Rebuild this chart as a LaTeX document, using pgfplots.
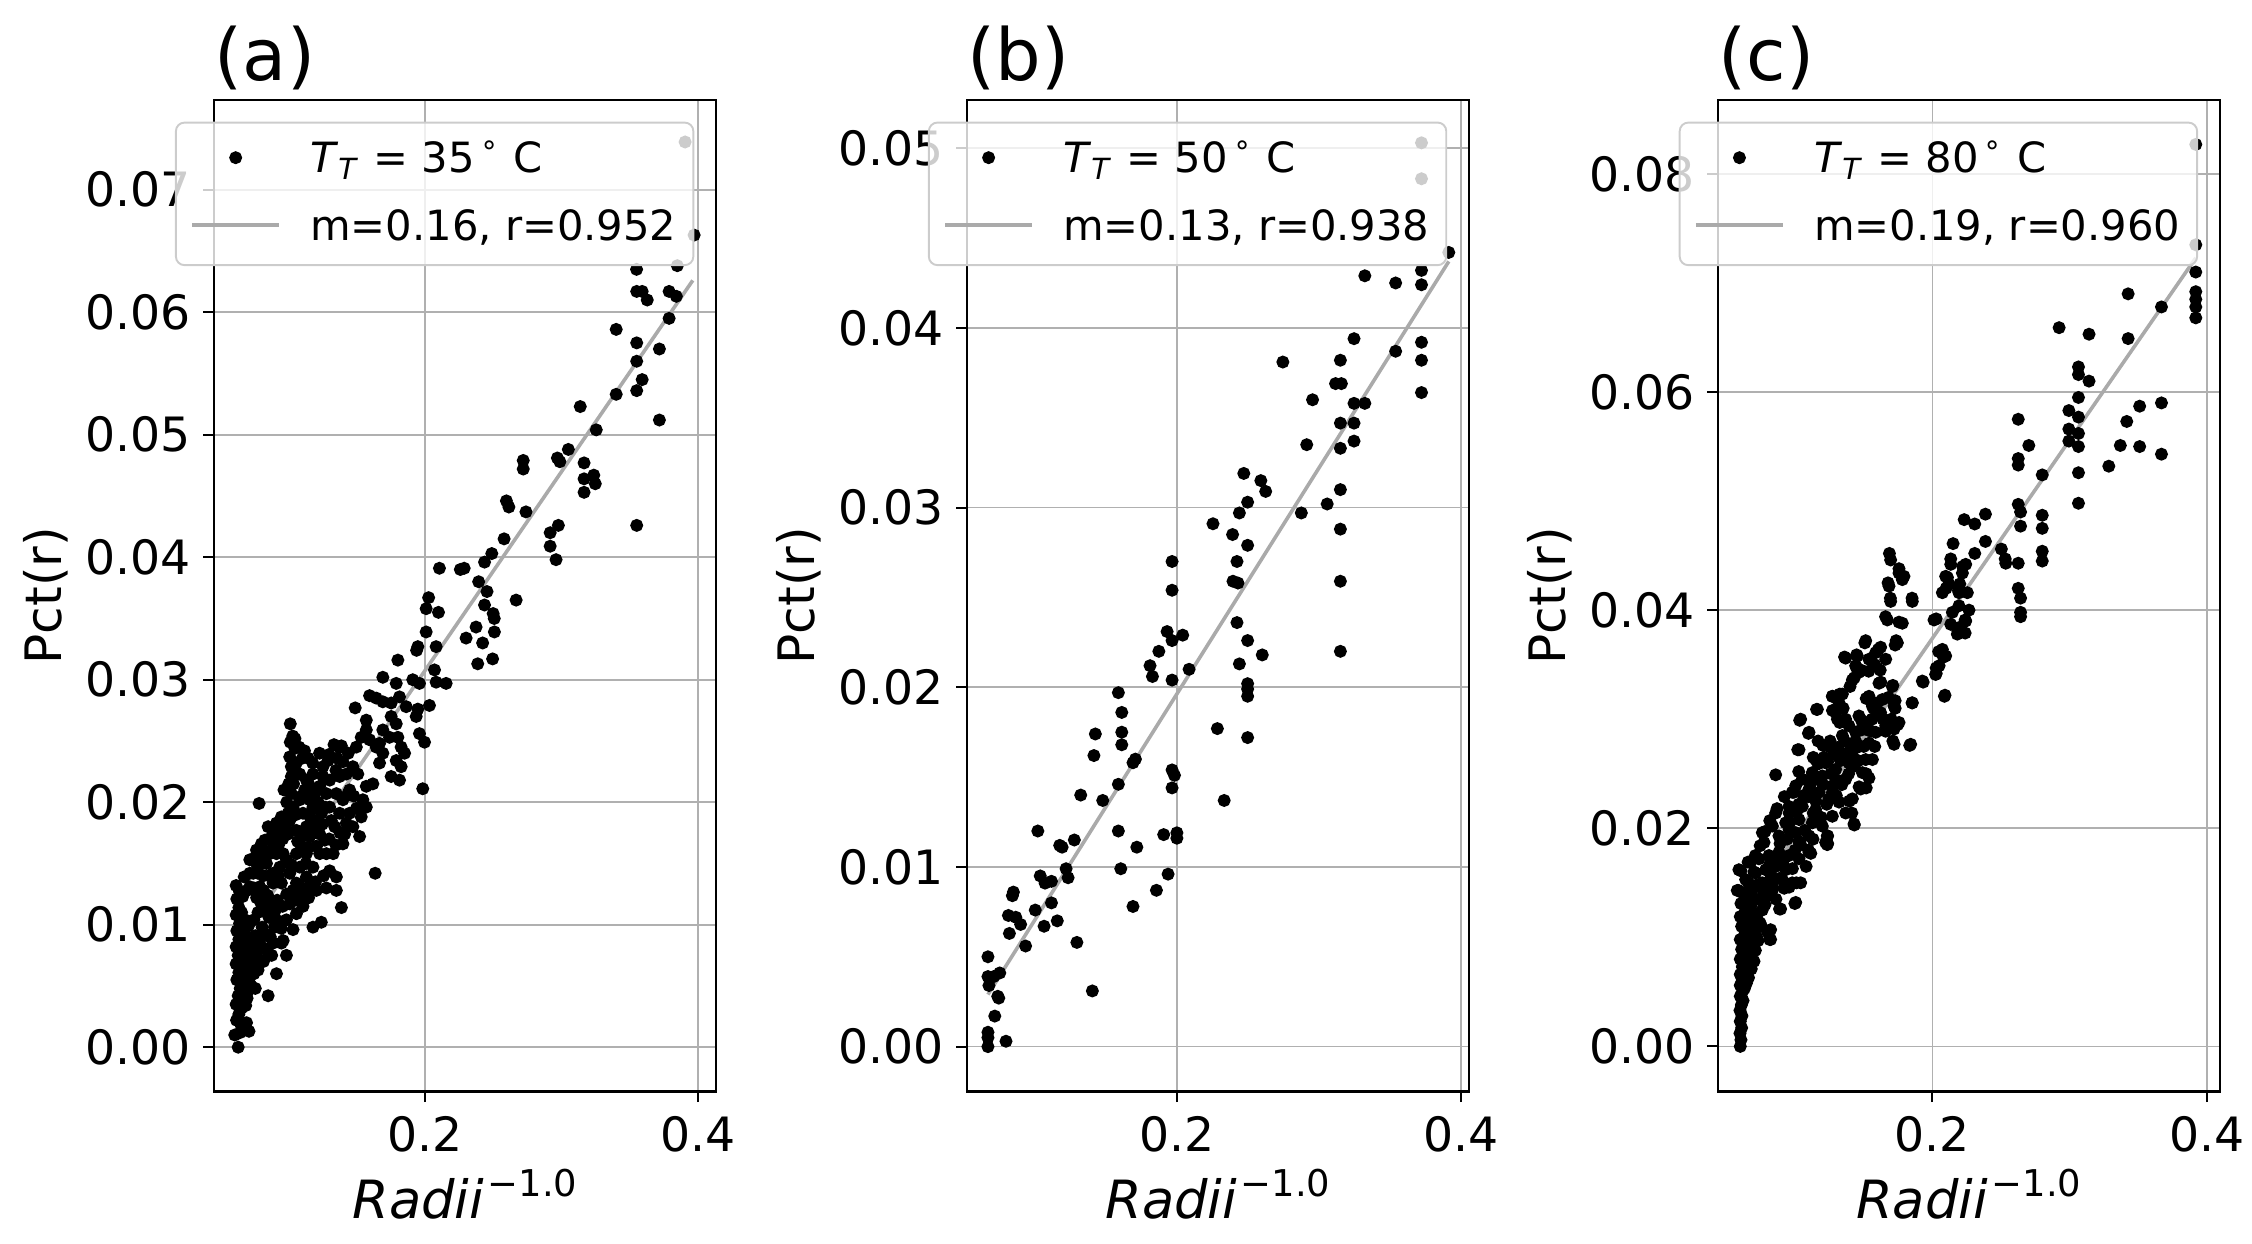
\documentclass[border=0pt]{standalone}
\usepackage{fontspec}
\setmainfont{DejaVu Sans}
\usepackage{pgfplots}
\pgfplotsset{compat=1.18}
\definecolor{gridc}{HTML}{B0B0B0}
\definecolor{fitc}{HTML}{AAAAAA}
\definecolor{legc}{HTML}{CCCCCC}
\pgfplotsset{
  panel/.style={
    scale only axis, width=104.77pt, height=207pt,
    anchor=south west,
    axis line style={line width=0.45pt, black},
    grid=major, major grid style={line width=0.35pt, gridc},
    tick align=outside, tick pos=left,
    major tick length=2.2pt,
    every tick/.style={black, line width=0.45pt},
    scaled ticks=false,
    /pgf/number format/assume math mode=true,
    tick label style={font=\fontsize{9.87}{11}\selectfont, inner sep=0pt},
    xticklabel style={anchor=base, yshift=-10.3pt},
    yticklabel style={anchor=east, xshift=-2.4pt},
    xtick={0.2,0.4},
    xticklabel style={/pgf/number format/.cd, fixed, precision=1},
    yticklabel style={/pgf/number format/.cd, fixed, fixed zerofill, precision=2},
    xlabel={\textit{Radii}\kern0.07em\raisebox{0.41em}{\fontsize{7.7}{8}\selectfont −1.0}},
    ylabel={Pct(r)},
    every axis x label/.style={at={(axis description cs:0.5,0)}, anchor=base, yshift=-26.4pt, inner sep=0pt, font=\fontsize{11}{12}\selectfont},
    every axis y label/.style={at={(axis description cs:-0.3035,0.5)}, rotate=90, anchor=base, inner sep=0pt, font=\fontsize{10.48}{12}\selectfont},
    every axis title/.style={at={(axis description cs:0,1)}, anchor=base west, yshift=4.11pt, inner sep=0pt, font=\fontsize{15}{17}\selectfont},
    legend cell align=left,
    legend style={at={(axis description cs:1,1)}, anchor=north east, xshift=-4.53pt, yshift=-4.57pt,
      draw=legc, line width=0.4pt, fill=white, fill opacity=0.8, draw opacity=1, text opacity=1,
      rounded corners=1.8pt, inner xsep=3pt, inner ysep=2pt, row sep=2.44pt,
      font=\fontsize{8.7}{10}\selectfont, nodes={inner sep=0pt, text depth=}},
  },
  dots/.style={only marks, mark=*, mark size=1.15pt, mark options={draw=none, fill=black},
    legend image code/.code={\path (0pt,0pt) (24.3pt,0pt); \fill[black, fill opacity=1] (9.1pt,0pt) circle (1.15pt);}},
  fit/.style={no marks, fitc, line width=0.75pt,
    legend image code/.code={\path (0pt,0pt) (24.3pt,0pt); \draw[fitc, line width=0.75pt, draw opacity=1] (0pt,0pt) -- (18.2pt,0pt);}},
}
\newcommand{\entryT}[1]{\textit{T}\textsubscript{\textit{T}} = #1\hspace{0.12em}\textsuperscript{∘}\hspace{0.3em}C\rule[-2.16pt]{0pt}{10.66pt}}
\newcommand{\entryM}[1]{#1\kern0.5pt\rule[-3.16pt]{0pt}{12.66pt}}
\begin{document}
\begin{tikzpicture}
\path[use as bounding box] (0,0) rectangle (470pt,259.6pt);
% ---------------- (a)
\begin{axis}[panel, at={(44.66pt,31.79pt)}, title={(a)},
  xmin=0.0458, xmax=0.413, ymin=-0.00362, ymax=0.07735,
  ytick={0,0.01,0.02,0.03,0.04,0.05,0.06,0.07}]
\addplot[dots] coordinates {
(0.0635,0.0000)(0.0623,0.0022)(0.0640,0.0027)(0.0660,0.0017)(0.0696,0.0020)(0.0714,0.0013)
(0.0620,0.0035)(0.0635,0.0042)(0.0650,0.0048)(0.0625,0.0055)(0.0640,0.0061)(0.0660,0.0058)
(0.0680,0.0052)(0.0700,0.0044)(0.0690,0.0034)(0.0620,0.0068)(0.0635,0.0075)(0.0655,0.0071)
(0.0675,0.0066)(0.0700,0.0062)(0.0720,0.0057)(0.0620,0.0082)(0.0640,0.0088)(0.0660,0.0084)
(0.0680,0.0079)(0.0710,0.0073)(0.0730,0.0068)(0.0625,0.0095)(0.0645,0.0101)(0.0665,0.0097)
(0.0690,0.0091)(0.0715,0.0086)(0.0740,0.0080)(0.0620,0.0108)(0.0640,0.0114)(0.0660,0.0110)
(0.0685,0.0104)(0.0710,0.0099)(0.0625,0.0121)(0.0645,0.0127)(0.0668,0.0123)(0.0620,0.0132)
(0.0679,0.0139)(0.0700,0.0128)(0.0760,0.0074)(0.0780,0.0063)(0.0800,0.0071)(0.0760,0.0091)
(0.0790,0.0086)(0.0820,0.0081)(0.0750,0.0104)(0.0780,0.0110)(0.0810,0.0098)(0.0840,0.0092)
(0.0770,0.0122)(0.0800,0.0118)(0.0830,0.0112)(0.0860,0.0106)(0.0750,0.0130)(0.0793,0.0131)
(0.0820,0.0128)(0.0850,0.0124)(0.0880,0.0117)(0.0915,0.0060)(0.0854,0.0042)(0.0880,0.0075)
(0.0870,0.0090)(0.0900,0.0098)(0.0930,0.0103)(0.0951,0.0085)(0.0988,0.0075)(0.0720,0.0131)
(0.0805,0.0166)(0.0830,0.0169)(0.0891,0.0166)(0.0927,0.0174)(0.0964,0.0183)(0.0951,0.0188)
(0.1012,0.0185)(0.1000,0.0191)(0.0915,0.0158)(0.0988,0.0153)(0.1061,0.0158)(0.1097,0.0164)
(0.1158,0.0172)(0.1134,0.0180)(0.1207,0.0185)(0.1231,0.0174)(0.1268,0.0169)(0.1280,0.0158)
(0.1231,0.0158)(0.1182,0.0147)(0.1134,0.0139)(0.1061,0.0134)(0.1012,0.0142)(0.0951,0.0134)
(0.0891,0.0142)(0.0842,0.0150)(0.0745,0.0142)(0.1036,0.0128)(0.1085,0.0123)(0.1158,0.0131)
(0.1207,0.0128)(0.1280,0.0130)(0.1353,0.0128)(0.1390,0.0114)(0.1182,0.0098)(0.1243,0.0102)
(0.1012,0.0117)(0.1061,0.0109)(0.1109,0.0115)(0.0988,0.0104)(0.1036,0.0096)(0.0964,0.0087)
(0.1353,0.0139)(0.1304,0.0144)(0.1401,0.0166)(0.1414,0.0174)(0.1341,0.0180)(0.1377,0.0191)
(0.1401,0.0202)(0.1438,0.0207)(0.1353,0.0207)(0.1304,0.0196)(0.1280,0.0207)(0.1231,0.0213)
(0.1158,0.0202)(0.1122,0.0210)(0.1085,0.0202)(0.1036,0.0196)(0.1024,0.0207)(0.1024,0.0221)
(0.1024,0.0229)(0.1012,0.0237)(0.1085,0.0223)(0.1134,0.0218)(0.1182,0.0223)(0.1255,0.0229)
(0.1292,0.0234)(0.1255,0.0221)(0.1304,0.0218)(0.1377,0.0221)(0.1426,0.0223)(0.1474,0.0229)
(0.1510,0.0223)(0.1499,0.0245)(0.1535,0.0253)(0.1572,0.0259)(0.1596,0.0251)(0.1645,0.0245)
(0.1693,0.0240)(0.1669,0.0232)(0.1620,0.0215)(0.1572,0.0213)(0.1547,0.0202)(0.1572,0.0196)
(0.1535,0.0188)(0.1523,0.0172)(0.1450,0.0191)(0.1474,0.0180)(0.1426,0.0183)(0.0915,0.0183)
(0.0891,0.0174)(0.0854,0.0180)(0.1000,0.0174)(0.1061,0.0177)(0.1109,0.0191)(0.1182,0.0196)
(0.1243,0.0191)(0.1316,0.0185)(0.1207,0.0164)(0.1134,0.0158)(0.1085,0.0147)(0.1024,0.0149)
(0.0964,0.0158)(0.0939,0.0147)(0.0866,0.0158)(0.0818,0.0158)(0.0769,0.0150)(0.0720,0.0153)
(0.0769,0.0161)(0.0788,0.0199)(0.1637,0.0142)
(0.0720,0.0142)(0.0760,0.0155)(0.0800,0.0150)(0.0830,0.0160)(0.0860,0.0170)(0.0900,0.0178)
(0.0930,0.0165)(0.0960,0.0170)(0.0980,0.0180)(0.0990,0.0200)(0.0970,0.0210)(0.1005,0.0215)
(0.1040,0.0215)(0.1060,0.0190)(0.1070,0.0168)(0.1100,0.0172)(0.1130,0.0150)(0.1150,0.0163)
(0.1160,0.0188)(0.1190,0.0177)(0.1220,0.0200)(0.1250,0.0182)(0.1270,0.0196)(0.1300,0.0170)
(0.1330,0.0158)(0.1260,0.0140)(0.1200,0.0135)(0.1150,0.0122)(0.1100,0.0130)(0.1050,0.0120)
(0.0990,0.0125)(0.0960,0.0115)(0.0920,0.0120)(0.0900,0.0110)(0.0950,0.0097)(0.0890,0.0085)
(0.0850,0.0078)(0.0820,0.0070)(0.0780,0.0080)(0.0750,0.0060)(0.0730,0.0050)(0.0760,0.0048)
(0.0700,0.0040)(0.0660,0.0032)(0.0650,0.0012)(0.0610,0.0010)(0.0890,0.0134)(0.0860,0.0140)
(0.0820,0.0140)(0.0780,0.0142)(0.0930,0.0140)(0.1100,0.0205)(0.1150,0.0215)(0.1200,0.0208)
(0.1180,0.0232)(0.1230,0.0240)(0.1060,0.0232)(0.1050,0.0252)(0.1080,0.0245)(0.1400,0.0233)
(0.1440,0.0240)(0.1350,0.0226)(0.1480,0.0205)(0.1500,0.0195)(0.1450,0.0210)(0.1380,0.0175)
(0.1350,0.0165)
(0.1016,0.0264)(0.1034,0.0254)(0.1016,0.0249)(0.1050,0.0244)(0.1105,0.0236)(0.1120,0.0242)
(0.1300,0.0239)(0.1357,0.0236)(0.1336,0.0247)(0.1390,0.0246)(0.1146,0.0236)(0.1377,0.0245)
(0.1491,0.0277)(0.1572,0.0267)(0.1596,0.0287)(0.1645,0.0285)(0.1693,0.0282)(0.1754,0.0281)
(0.1693,0.0302)(0.1803,0.0316)(0.1791,0.0297)(0.1815,0.0286)(0.1754,0.0270)(0.1791,0.0264)
(0.1864,0.0278)(0.1693,0.0259)(0.1742,0.0253)(0.1803,0.0253)(0.1827,0.0245)(0.1852,0.0240)
(0.1791,0.0234)(0.1827,0.0229)(0.1754,0.0221)(0.1815,0.0218)(0.1669,0.0248)(0.1949,0.0276)
(0.1937,0.0270)(0.1961,0.0256)(0.1998,0.0249)(0.1985,0.0211)(0.2034,0.0279)(0.2071,0.0308)
(0.2083,0.0298)(0.2156,0.0297)(0.1961,0.0297)(0.1912,0.0300)(0.1949,0.0327)(0.2010,0.0339)
(0.2083,0.0327)(0.2302,0.0334)(0.2387,0.0313)(0.2496,0.0317)(0.2423,0.0330)(0.2509,0.0339)
(0.2375,0.0343)(0.1940,0.0324)
(0.2010,0.0358)(0.2100,0.0355)(0.2437,0.0361)(0.2668,0.0365)(0.2508,0.0350)(0.2028,0.0367)
(0.2107,0.0391)(0.2260,0.0390)(0.2288,0.0391)(0.2394,0.0380)(0.2455,0.0372)(0.2500,0.0354)
(0.2580,0.0415)(0.2490,0.0403)(0.2437,0.0396)(0.2597,0.0446)(0.2615,0.0441)(0.2740,0.0437)
(0.2917,0.0420)(0.2917,0.0409)(0.2977,0.0426)(0.2960,0.0398)(0.2720,0.0479)(0.2720,0.0472)
(0.3050,0.0488)(0.2970,0.0481)(0.2988,0.0478)(0.3165,0.0477)(0.3165,0.0464)(0.3236,0.0467)
(0.3247,0.0460)(0.3165,0.0453)(0.3550,0.0426)(0.3137,0.0523)(0.3254,0.0504)(0.3400,0.0533)
(0.3550,0.0536)(0.3716,0.0512)(0.3590,0.0545)(0.3550,0.0560)(0.3716,0.0570)(0.3550,0.0575)
(0.3400,0.0586)(0.3787,0.0595)(0.3550,0.0617)(0.3590,0.0617)(0.3627,0.0610)(0.3787,0.0617)
(0.3840,0.0613)(0.3549,0.0635)(0.3847,0.0638)(0.3970,0.0663)(0.3904,0.0739)
};
\addlegendentry{\entryT{35}}
\addplot[fit] coordinates {(0.0615,0.0082) (0.3960,0.0626)};
\addlegendentry{\entryM{m=0.16, r=0.952}}
\end{axis}
% ---------------- (b)
\begin{axis}[panel, at={(201.8pt,31.79pt)}, title={(b)},
  xmin=0.0522, xmax=0.4056, ymin=-0.0025, ymax=0.0527,
  ytick={0,0.01,0.02,0.03,0.04,0.05}]
\addplot[dots] coordinates {
(0.3722,0.0503)(0.3722,0.0483)(0.3914,0.0442)(0.3722,0.0432)(0.3722,0.0424)(0.3323,0.0429)
(0.3540,0.0425)(0.3247,0.0394)(0.3540,0.0387)(0.3722,0.0392)(0.3722,0.0382)(0.3722,0.0364)
(0.2746,0.0381)(0.3151,0.0382)(0.3117,0.0369)(0.3158,0.0369)(0.2955,0.0360)(0.3247,0.0358)
(0.3323,0.0358)(0.3151,0.0347)(0.3247,0.0347)(0.3247,0.0337)(0.2914,0.0335)(0.3151,0.0333)
(0.2471,0.0319)(0.2591,0.0315)(0.2625,0.0309)(0.2498,0.0303)(0.2440,0.0297)(0.3058,0.0302)
(0.3151,0.0310)(0.2876,0.0297)(0.2254,0.0291)(0.2392,0.0285)(0.2498,0.0279)(0.3151,0.0288)
(0.1966,0.0270)(0.2423,0.0270)(0.1966,0.0254)(0.2395,0.0259)(0.2430,0.0258)(0.3151,0.0259)
(0.2423,0.0236)(0.2498,0.0226)(0.2601,0.0218)(0.2440,0.0213)(0.2498,0.0202)(0.2498,0.0199)
(0.2498,0.0195)(0.2498,0.0172)(0.2285,0.0177)(0.2333,0.0137)(0.3151,0.0220)(0.1931,0.0231)
(0.1966,0.0226)(0.2041,0.0229)(0.1873,0.0220)(0.1811,0.0212)(0.1828,0.0206)(0.1966,0.0204)
(0.2086,0.0210)(0.1588,0.0197)(0.1612,0.0186)(0.1426,0.0174)(0.1612,0.0175)(0.1612,0.0168)
(0.1416,0.0162)(0.1708,0.0160)(0.1691,0.0158)(0.1588,0.0146)(0.1966,0.0154)(0.1983,0.0151)
(0.1966,0.0144)(0.1323,0.0140)(0.1478,0.0137)(0.1021,0.0120)(0.1278,0.0115)(0.1175,0.0112)
(0.1192,0.0111)(0.1588,0.0120)(0.1907,0.0118)(0.2000,0.0119)(0.2000,0.0116)(0.1718,0.0111)
(0.1220,0.0099)(0.1605,0.0099)(0.1038,0.0095)(0.1072,0.0091)(0.1117,0.0092)(0.1234,0.0094)
(0.1938,0.0096)(0.0849,0.0086)(0.0842,0.0084)(0.1003,0.0076)(0.1117,0.0080)(0.0814,0.0073)
(0.0866,0.0072)(0.0900,0.0068)(0.1065,0.0067)(0.1158,0.0070)(0.0821,0.0063)(0.0935,0.0056)
(0.1296,0.0058)(0.1856,0.0087)(0.1691,0.0078)(0.0670,0.0050)(0.0670,0.0039)(0.0711,0.0039)
(0.0753,0.0041)(0.0677,0.0034)(0.0739,0.0028)(0.0746,0.0027)(0.1405,0.0031)(0.0718,0.0017)
(0.0670,0.0008)(0.0670,0.0005)(0.0670,0.0000)(0.0797,0.0003)
};
\addlegendentry{\entryT{50}}
\addplot[fit] coordinates {(0.0670,0.0029) (0.3914,0.0437)};
\addlegendentry{\entryM{m=0.13, r=0.938}}
\end{axis}
% ---------------- (c)
\begin{axis}[panel, at={(358.5pt,31.79pt)}, title={(c)},
  xmin=0.0436, xmax=0.4095, ymin=-0.00414, ymax=0.0868,
  ytick={0,0.02,0.04,0.06,0.08}]
\addplot[dots] coordinates {
(0.0600,0.0000)(0.0605,0.0006)(0.0598,0.0012)(0.0610,0.0017)(0.0600,0.0023)(0.0612,0.0028)
(0.0598,0.0033)(0.0608,0.0038)(0.0620,0.0042)(0.0600,0.0046)(0.0615,0.0050)(0.0630,0.0053)
(0.0600,0.0056)(0.0645,0.0058)(0.0615,0.0061)(0.0660,0.0063)(0.0600,0.0066)(0.0635,0.0068)
(0.0680,0.0071)(0.0615,0.0073)(0.0655,0.0076)(0.0700,0.0078)(0.0600,0.0080)(0.0630,0.0083)
(0.0670,0.0085)(0.0710,0.0088)(0.0610,0.0089)(0.0650,0.0092)(0.0690,0.0095)(0.0730,0.0097)
(0.0600,0.0098)(0.0630,0.0102)(0.0670,0.0104)(0.0710,0.0107)(0.0821,0.0098)(0.0821,0.0107)
(0.0750,0.0111)(0.0610,0.0110)(0.0650,0.0113)(0.0690,0.0116)(0.0600,0.0119)(0.0630,0.0122)
(0.0894,0.0126)(0.1004,0.0132)(0.0578,0.0143)(0.0590,0.0162)(0.0615,0.0141)
(0.0639,0.0129)(0.0712,0.0135)(0.0785,0.0141)(0.0688,0.0144)(0.0761,0.0150)(0.0834,0.0153)
(0.0906,0.0153)(0.0979,0.0150)(0.0639,0.0153)(0.0712,0.0159)(0.0785,0.0162)(0.0858,0.0165)
(0.0931,0.0162)(0.1040,0.0150)(0.0676,0.0169)(0.0736,0.0172)(0.0809,0.0175)(0.0882,0.0178)
(0.0955,0.0175)(0.1028,0.0172)(0.1101,0.0178)(0.1222,0.0187)
(0.0761,0.0196)(0.0773,0.0187)(0.0834,0.0202)(0.0858,0.0214)(0.0882,0.0193)(0.0931,0.0205)
(0.0955,0.0220)(0.1004,0.0196)(0.1028,0.0208)(0.1052,0.0220)(0.1101,0.0193)(0.1125,0.0205)
(0.1149,0.0217)(0.1198,0.0202)(0.1234,0.0193)(0.1234,0.0185)(0.1271,0.0211)(0.1247,0.0227)
(0.1320,0.0224)(0.1368,0.0214)(0.1429,0.0204)(0.1417,0.0227)(0.0858,0.0249)
(0.0979,0.0233)(0.1028,0.0272)(0.1004,0.0239)(0.1052,0.0245)(0.1101,0.0236)(0.1125,0.0251)
(0.1149,0.0263)(0.1101,0.0288)(0.1174,0.0233)(0.1198,0.0248)(0.1222,0.0260)(0.1247,0.0275)
(0.1271,0.0239)(0.1295,0.0254)(0.1320,0.0269)(0.1344,0.0285)(0.1368,0.0245)(0.1392,0.0260)
(0.1417,0.0275)(0.1441,0.0288)(0.1478,0.0236)(0.1490,0.0251)(0.1514,0.0263)(0.1538,0.0246)
(0.1538,0.0278)(0.1563,0.0263)(0.1587,0.0288)(0.1040,0.0300)(0.1162,0.0309)(0.1271,0.0321)
(0.1344,0.0323)(0.1295,0.0306)(0.1320,0.0315)(0.1368,0.0300)(0.1392,0.0294)(0.1465,0.0303)
(0.1514,0.0297)(0.1563,0.0312)(0.1538,0.0321)(0.1623,0.0306)(0.1660,0.0294)(0.1721,0.0277)
(0.1721,0.0291)(0.1757,0.0297)(0.1842,0.0277)(0.1854,0.0315)(0.1721,0.0312)(0.1708,0.0330)
(0.1635,0.0318)(0.1611,0.0333)(0.1417,0.0336)(0.1465,0.0343)(0.1368,0.0356)(0.1453,0.0358)
(0.1514,0.0372)(0.1441,0.0349)(0.1538,0.0355)(0.1587,0.0361)(0.1623,0.0366)(0.1745,0.0370)
(0.1696,0.0408)(0.1672,0.0391)(0.1781,0.0388)(0.1854,0.0408)(0.1684,0.0422)(0.1757,0.0434)
(0.1781,0.0428)(0.1696,0.0446)(0.1927,0.0335)(0.2092,0.0322)(0.2024,0.0341)(0.2097,0.0358)
(0.2049,0.0349)(0.2073,0.0364)(0.2182,0.0378)(0.2194,0.0384)(0.2243,0.0390)(0.2267,0.0400)
(0.2146,0.0398)(0.2194,0.0404)(0.2012,0.0391)(0.2073,0.0416)(0.2097,0.0431)(0.2134,0.0442)
(0.2219,0.0434)(0.2243,0.0442)(0.2194,0.0416)(0.2255,0.0416)(0.2535,0.0443)
(0.2643,0.0394)(0.2028,0.0392)(0.2134,0.0387)(0.2239,0.0391)(0.2186,0.0381)(0.2239,0.0379)
(0.1659,0.0394)(0.1757,0.0389)(0.1736,0.0372)(0.1729,0.0368)(0.2046,0.0362)(0.2081,0.0357)
(0.2028,0.0347)(0.2028,0.0342)(0.1933,0.0334)(0.2088,0.0321)(0.1508,0.0370)(0.1606,0.0364)
(0.1360,0.0357)(0.1448,0.0359)(0.1448,0.0347)(0.1536,0.0344)(0.1431,0.0338)(0.1624,0.0334)
(0.1712,0.0331)(0.1729,0.0317)(0.1852,0.0315)(0.1272,0.0321)(0.1325,0.0323)(0.1518,0.0319)
(0.1571,0.0310)(0.1729,0.0310)(0.1747,0.0295)(0.1156,0.0309)(0.1272,0.0308)(0.1308,0.0300)
(0.1325,0.0297)(0.1033,0.0299)(0.1483,0.0299)(0.1554,0.0289)(0.1659,0.0289)(0.1712,0.0280)
(0.1835,0.0276)(0.1097,0.0287)(0.1167,0.0280)(0.1202,0.0276)(0.1255,0.0280)(0.1308,0.0274)
(0.1378,0.0269)(0.1448,0.0274)(0.1019,0.0272)(0.1132,0.0265)(0.1167,0.0259)(0.1237,0.0261)
(0.1431,0.0257)(0.1518,0.0250)(0.1466,0.0238)(0.1518,0.0237)(0.1026,0.0252)(0.1097,0.0244)
(0.0991,0.0233)(0.1097,0.0229)(0.1202,0.0240)(0.1272,0.0233)(0.1308,0.0244)(0.1395,0.0225)
(0.1413,0.0214)(0.1431,0.0203)(0.0921,0.0229)(0.0868,0.0218)(0.0956,0.0214)(0.1026,0.0222)
(0.1132,0.0214)(0.1167,0.0207)(0.1237,0.0193)(0.1237,0.0186)(0.0780,0.0197)(0.0815,0.0207)
(0.0745,0.0184)(0.0956,0.0199)(0.1026,0.0188)(0.1097,0.0180)(0.1114,0.0177)(0.0605,0.0161)
(0.0657,0.0169)(0.0710,0.0175)(0.0815,0.0167)(0.0886,0.0154)(0.0956,0.0146)(0.1009,0.0150)
(0.0587,0.0143)(0.0605,0.0131)(0.0675,0.0139)(0.0745,0.0146)(0.0815,0.0139)(0.0886,0.0126)
(0.0998,0.0131)(0.0675,0.0120)(0.0745,0.0113)(0.0798,0.0105)(0.0815,0.0098)(0.0692,0.0109)
(0.0692,0.0090)(0.0675,0.0071)
(0.0640,0.0140)(0.0660,0.0150)(0.0700,0.0160)(0.0720,0.0148)(0.0740,0.0135)(0.0760,0.0125)
(0.0780,0.0130)(0.0800,0.0150)(0.0820,0.0158)(0.0840,0.0145)(0.0860,0.0135)(0.0870,0.0175)
(0.0890,0.0186)(0.0910,0.0168)(0.0920,0.0145)(0.0940,0.0190)(0.0960,0.0205)(0.0980,0.0163)
(0.1000,0.0180)(0.1010,0.0215)(0.1040,0.0185)(0.1060,0.0230)(0.1070,0.0198)(0.1080,0.0165)
(0.1110,0.0240)(0.1130,0.0190)(0.1150,0.0225)(0.1170,0.0245)(0.1190,0.0210)(0.1210,0.0265)
(0.1230,0.0222)(0.1260,0.0250)(0.1280,0.0268)(0.1300,0.0230)(0.1330,0.0262)(0.1340,0.0240)
(0.1360,0.0280)(0.1390,0.0250)(0.1420,0.0265)(0.1440,0.0280)(0.1460,0.0262)(0.1480,0.0290)
(0.1500,0.0275)(0.1530,0.0290)(0.1560,0.0300)(0.1580,0.0275)(0.1600,0.0315)(0.1640,0.0300)
(0.1680,0.0320)(0.1700,0.0300)(0.1620,0.0345)(0.1580,0.0350)(0.1660,0.0355)(0.1480,0.0345)
(0.1400,0.0330)(0.1350,0.0310)(0.0650,0.0125)(0.0680,0.0130)(0.0710,0.0122)(0.0730,0.0115)
(0.0660,0.0100)(0.0720,0.0100)
(0.3920,0.0827)(0.3920,0.0735)(0.3920,0.0710)(0.3920,0.0692)(0.3920,0.0685)(0.3920,0.0678)
(0.3920,0.0668)(0.3427,0.0690)(0.3670,0.0678)(0.2924,0.0659)(0.3142,0.0653)(0.3427,0.0649)
(0.3065,0.0623)(0.3065,0.0616)(0.3142,0.0610)(0.3065,0.0595)(0.2626,0.0575)(0.2995,0.0583)
(0.3065,0.0577)(0.2995,0.0566)(0.3065,0.0562)(0.2995,0.0555)(0.3065,0.0550)(0.3417,0.0573)
(0.3511,0.0587)(0.3670,0.0590)(0.2703,0.0551)(0.2626,0.0539)(0.2626,0.0533)(0.3370,0.0551)
(0.3511,0.0550)(0.3670,0.0543)(0.3286,0.0532)(0.2801,0.0524)(0.3065,0.0526)(0.3065,0.0498)
(0.2626,0.0497)(0.2643,0.0490)(0.2643,0.0477)(0.2801,0.0487)(0.2801,0.0475)(0.2232,0.0483)
(0.2309,0.0479)(0.2387,0.0488)(0.2387,0.0463)(0.2151,0.0461)(0.2309,0.0452)(0.2503,0.0456)
(0.2531,0.0447)(0.2626,0.0443)(0.2801,0.0454)(0.2801,0.0445)(0.2134,0.0447)(0.2221,0.0440)
(0.1687,0.0452)(0.1757,0.0438)(0.1793,0.0431)(0.1677,0.0425)(0.1694,0.0411)(0.1852,0.0411)
(0.2110,0.0430)(0.2120,0.0424)(0.2200,0.0424)(0.2100,0.0420)(0.2190,0.0418)(0.2626,0.0420)
(0.2643,0.0411)(0.2643,0.0398)
};
\addlegendentry{\entryT{80}}
\addplot[fit] coordinates {(0.0585,0.0117) (0.3920,0.0723)};
\addlegendentry{\entryM{m=0.19, r=0.960}}
\end{axis}
\end{tikzpicture}
\end{document}
